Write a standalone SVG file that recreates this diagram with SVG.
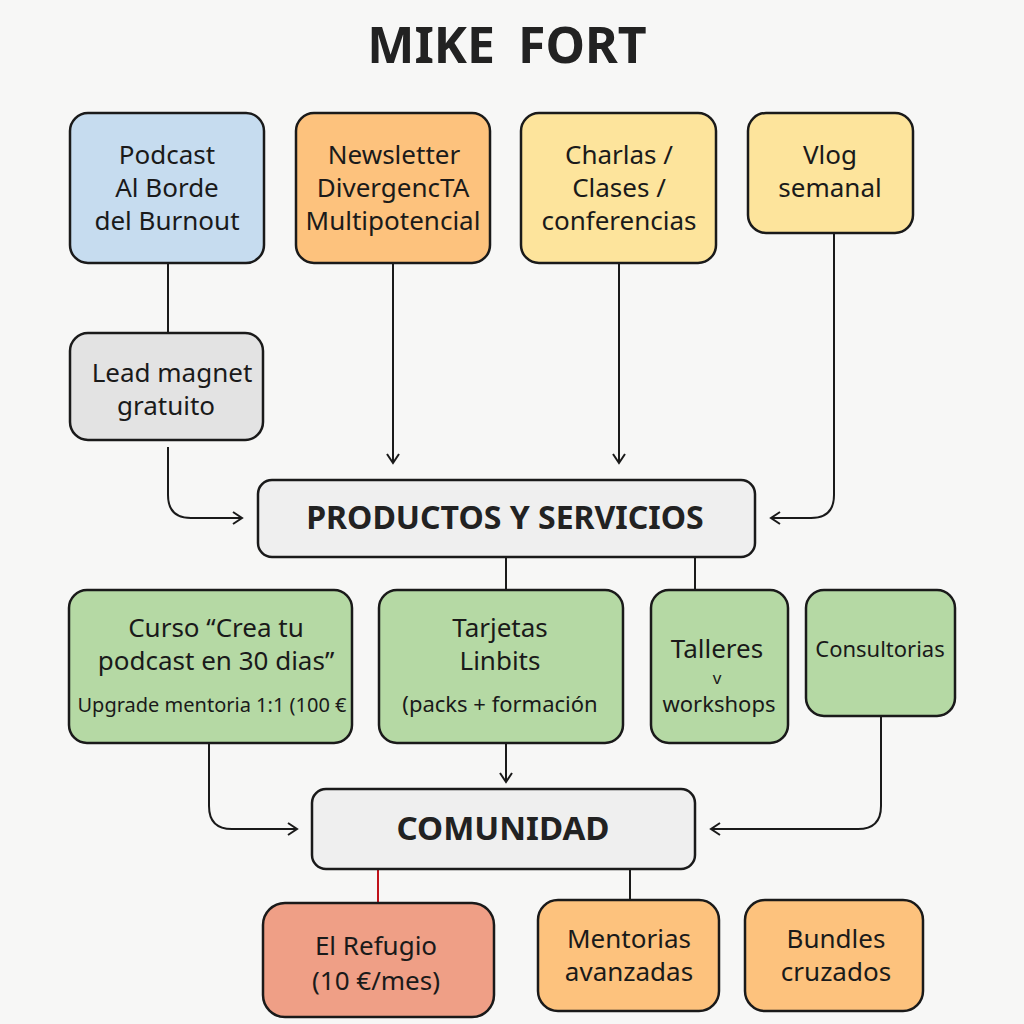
<svg xmlns="http://www.w3.org/2000/svg" width="1024" height="1024" viewBox="0 0 1024 1024">
<defs>
<style>
.n{stroke:#1a1a1a;stroke-width:2.5}
.t{font-family:"Noto Sans","Open Sans",sans-serif;font-size:26px;fill:#1a1a1a;text-anchor:middle}
.s{font-size:22px}
.xs{font-size:20px}
.v{font-size:17px}
.h{font-family:"Noto Sans","Open Sans",sans-serif;font-weight:bold;fill:#222;text-anchor:middle}
.c{fill:none;stroke:#1a1a1a;stroke-width:2}
</style>
<marker id="a" markerWidth="14" markerHeight="14" refX="11" refY="7" orient="auto" markerUnits="userSpaceOnUse">
<path d="M2,1 L11,7 L2,13" fill="none" stroke="#1a1a1a" stroke-width="2"/>
</marker>
</defs>
<rect width="1024" height="1024" fill="#f7f7f6"/>
<text class="h" x="507" y="63" font-size="50" word-spacing="10">MIKE FORT</text>

<g id="connectors">
<path class="c" d="M168,263 V333"/>
<path class="c" d="M168,447 V495 Q168,518 191,518 H242" marker-end="url(#a)"/>
<path class="c" d="M393,263 V463" marker-end="url(#a)"/>
<path class="c" d="M619,263 V463" marker-end="url(#a)"/>
<path class="c" d="M834,233 V495 Q834,518 811,518 H771" marker-end="url(#a)"/>
<path class="c" d="M506,557 V590"/>
<path class="c" d="M695,557 V590"/>
<path class="c" d="M506,743 V782" marker-end="url(#a)"/>
<path class="c" d="M209,743 V806 Q209,829 232,829 H297" marker-end="url(#a)"/>
<path class="c" d="M881,716 V806 Q881,829 858,829 H711" marker-end="url(#a)"/>
<path d="M378,869 V903" fill="none" stroke="#c0121a" stroke-width="2"/>
<path class="c" d="M630,869 V900"/>
</g>

<g id="podcast"><rect class="n" x="70" y="113" width="194" height="150" rx="18" fill="#c6dcef"/>
<text class="t" x="167" y="164">Podcast</text><text class="t" x="167" y="197">Al Borde</text><text class="t" x="167" y="230">del Burnout</text></g>
<g id="newsletter"><rect class="n" x="296" y="113" width="194" height="150" rx="18" fill="#fdc27d"/>
<text class="t" x="394" y="164">Newsletter</text><text class="t" x="393" y="197">DivergencTA</text><text class="t" x="393" y="230">Multipotencial</text></g>
<g id="charlas"><rect class="n" x="521" y="113" width="195" height="150" rx="18" fill="#fde49c"/>
<text class="t" x="619" y="164">Charlas /</text><text class="t" x="619" y="197">Clases /</text><text class="t" x="619" y="230">conferencias</text></g>
<g id="vlog"><rect class="n" x="748" y="113" width="165" height="120" rx="18" fill="#fde49c"/>
<text class="t" x="830" y="164">Vlog</text><text class="t" x="830" y="197">semanal</text></g>
<g id="lead"><rect class="n" x="70" y="333" width="193" height="107" rx="18" fill="#e3e3e3"/>
<text class="t" x="172" y="382">Lead magnet</text><text class="t" x="166" y="415">gratuito</text></g>

<g id="productos"><rect class="n" x="258" y="480" width="497" height="77" rx="14" fill="#efefef"/>
<text class="h" x="505" y="529" font-size="32">PRODUCTOS Y SERVICIOS</text></g>

<g id="curso"><rect class="n" x="69" y="590" width="283" height="153" rx="18" fill="#b5d9a4"/>
<text class="t" x="216" y="637">Curso “Crea tu</text><text class="t" x="216" y="670">podcast en 30 dias”</text><text class="t xs" x="212" y="712">Upgrade mentoria 1:1 (100 €</text></g>
<g id="tarjetas"><rect class="n" x="379" y="590" width="244" height="153" rx="18" fill="#b5d9a4"/>
<text class="t" x="500" y="637">Tarjetas</text><text class="t" x="500" y="670">Linbits</text><text class="t s" x="500" y="712">(packs + formación</text></g>
<g id="talleres"><rect class="n" x="651" y="590" width="137" height="153" rx="18" fill="#b5d9a4"/>
<text class="t" x="717" y="658">Talleres</text><text class="t v" x="717" y="684">v</text><text class="t s" x="719" y="712">workshops</text></g>
<g id="consultorias"><rect class="n" x="806" y="590" width="149" height="126" rx="18" fill="#b5d9a4"/>
<text class="t s" x="880" y="657">Consultorias</text></g>

<g id="comunidad"><rect class="n" x="312" y="789" width="383" height="80" rx="14" fill="#efefef"/>
<text class="h" x="503" y="840" font-size="33">COMUNIDAD</text></g>

<g id="refugio"><rect class="n" x="263" y="903" width="231" height="114" rx="22" fill="#ef9f86"/>
<text class="t" x="376" y="955">El Refugio</text><text class="t" x="376" y="990">(10 €/mes)</text></g>
<g id="mentorias"><rect class="n" x="538" y="900" width="181" height="111" rx="20" fill="#fdc27d"/>
<text class="t" x="629" y="948">Mentorias</text><text class="t" x="629" y="981">avanzadas</text></g>
<g id="bundles"><rect class="n" x="745" y="900" width="178" height="111" rx="20" fill="#fdc27d"/>
<text class="t" x="836" y="948">Bundles</text><text class="t" x="836" y="981">cruzados</text></g>
</svg>
